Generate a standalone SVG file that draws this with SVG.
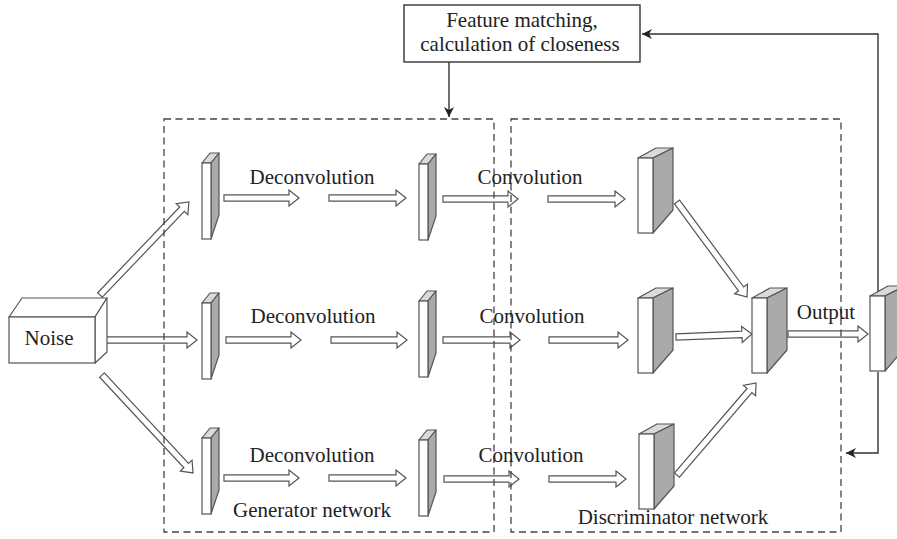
<svg xmlns="http://www.w3.org/2000/svg" width="897" height="539" viewBox="0 0 897 539" font-family="'Liberation Serif', 'DejaVu Serif', serif">
<style>
text{font-family:'Liberation Serif','DejaVu Serif',serif;font-size:21px;fill:#222}
.ba{fill:#fff;stroke:#555;stroke-width:1.2;stroke-linejoin:miter}
.front{fill:#fff;stroke:#555;stroke-width:1.2}
.top{fill:#dadada;stroke:#555;stroke-width:1.2;stroke-linejoin:round}
.side{fill:#aaa;stroke:#555;stroke-width:1.2;stroke-linejoin:round}
.dash{fill:none;stroke:#444;stroke-width:1.3;stroke-dasharray:7 4.5}
.line{fill:none;stroke:#333;stroke-width:1.4}
</style>
<defs>
<marker id="ah" viewBox="0 0 10 10" refX="10" refY="5" markerWidth="10" markerHeight="10" markerUnits="userSpaceOnUse" orient="auto">
<path d="M0,0 L10,5 L0,10 L3,5 Z" fill="#222"/>
</marker>
<g id="gslab">
<polygon class="top" points="0,0 8,-10 17,-10 9,0"/>
<polygon class="side" points="9,0 17,-10 17,52 9,76"/>
<rect class="front" x="0" y="0" width="9" height="76"/>
</g>
<g id="dslab">
<polygon class="top" points="0,0 18,-10 35,-10 15,0"/>
<polygon class="side" points="15,0 35,-10 35,52 15,75"/>
<rect class="front" x="0" y="0" width="15" height="75"/>
</g>
</defs>
<rect width="897" height="539" fill="#fff"/>

<g id="connectors">
<path class="line" d="M878,295 V34 H642" marker-end="url(#ah)"/>
<path class="line" d="M878,372 V453 H846" marker-end="url(#ah)"/>
<path class="line" d="M449,62 V117" marker-end="url(#ah)"/>
<path class="ba" d="M224,194.8 H289 V190 L299,198 L289,206 V201.2 H224 Z"/>
<path class="ba" d="M329,194.8 H396 V190 L406,198 L396,206 V201.2 H329 Z"/>
<path class="ba" d="M443,195.8 H508 V191 L518,199 L508,207 V202.2 H443 Z"/>
<path class="ba" d="M548,195.8 H615 V191 L625,199 L615,207 V202.2 H548 Z"/>
<path class="ba" d="M100,336.8 H187 V332 L197,340 L187,348 V343.2 H100 Z"/>
<path class="ba" d="M226,336.8 H291 V332 L301,340 L291,348 V343.2 H226 Z"/>
<path class="ba" d="M331,336.8 H397 V332 L407,340 L397,348 V343.2 H331 Z"/>
<path class="ba" d="M443,336.8 H510 V332 L520,340 L510,348 V343.2 H443 Z"/>
<path class="ba" d="M549,336.8 H618 V332 L628,340 L618,348 V343.2 H549 Z"/>
<path class="ba" d="M224,474.8 H289 V470 L299,478 L289,486 V481.2 H224 Z"/>
<path class="ba" d="M329,474.8 H396 V470 L406,478 L396,486 V481.2 H329 Z"/>
<path class="ba" d="M444,475.8 H509 V471 L519,479 L509,487 V482.2 H444 Z"/>
<path class="ba" d="M549,475.8 H616 V471 L626,479 L616,487 V482.2 H549 Z"/>
<path class="ba" transform="translate(100,295) rotate(-46.3)" d="M0,-3.2 H118.7 V-8 L128.7,0 L118.7,8 V3.2 H0 Z"/>
<path class="ba" transform="translate(102,375) rotate(47.1)" d="M0,-3.2 H123.7 V-8 L133.7,0 L123.7,8 V3.2 H0 Z"/>
<path class="ba" transform="translate(677,202) rotate(53.6)" d="M0,-3.2 H108 V-8 L118,0 L108,8 V3.2 H0 Z"/>
<path class="ba" transform="translate(676,337) rotate(-2.26)" d="M0,-3.2 H66 V-8 L76,0 L66,8 V3.2 H0 Z"/>
<path class="ba" transform="translate(677,475) rotate(-49.35)" d="M0,-3.2 H111.3 V-8 L121.3,0 L111.3,8 V3.2 H0 Z"/>
<path class="ba" d="M788,330.8 H858 V326 L868,334 L858,342 V337.2 H788 Z"/>
</g>

<g id="noise">
<polygon class="top" points="9,317 22,298 107,298 95,317" style="fill:#fff"/>
<polygon class="side" points="95,317 107,298 107,352 95,363" style="fill:#fff"/>
<rect class="front" x="9" y="317" width="86" height="46"/>
<text x="49" y="345" text-anchor="middle">Noise</text>
</g>

<g id="gen-layers">
<use href="#gslab" x="202" y="163"/>
<use href="#gslab" x="419" y="164"/>
<use href="#gslab" x="202" y="303"/>
<use href="#gslab" x="419" y="301"/>
<use href="#gslab" x="202" y="438"/>
<use href="#gslab" x="419" y="440"/>
</g>

<g id="disc-layers">
<use href="#dslab" x="638" y="158"/>
<use href="#dslab" x="638" y="298"/>
<use href="#dslab" x="639" y="434"/>
</g>
<g id="merge"><use href="#dslab" x="752" y="298"/></g>
<g id="output"><use href="#dslab" x="870" y="296"/></g>

<g id="generator-network">
<rect class="dash" x="164" y="119" width="330" height="413"/>
<text x="312" y="517" text-anchor="middle">Generator network</text>
</g>
<g id="discriminator-network">
<rect class="dash" x="511" y="119" width="330" height="413"/>
<text x="673" y="524" text-anchor="middle">Discriminator network</text>
</g>

<g id="feature-matching">
<rect x="404" y="5" width="236" height="57" fill="#fff" stroke="#333" stroke-width="1.4"/>
<text x="522" y="27" text-anchor="middle">Feature matching,</text>
<text x="520" y="51" text-anchor="middle">calculation of closeness</text>
</g>

<g id="labels">
<text x="312" y="184" text-anchor="middle">Deconvolution</text>
<text x="313" y="323" text-anchor="middle">Deconvolution</text>
<text x="312" y="462" text-anchor="middle">Deconvolution</text>
<text x="530" y="184" text-anchor="middle">Convolution</text>
<text x="532" y="323" text-anchor="middle">Convolution</text>
<text x="531" y="462" text-anchor="middle">Convolution</text>
<text x="826" y="319" text-anchor="middle">Output</text>
</g>
</svg>
